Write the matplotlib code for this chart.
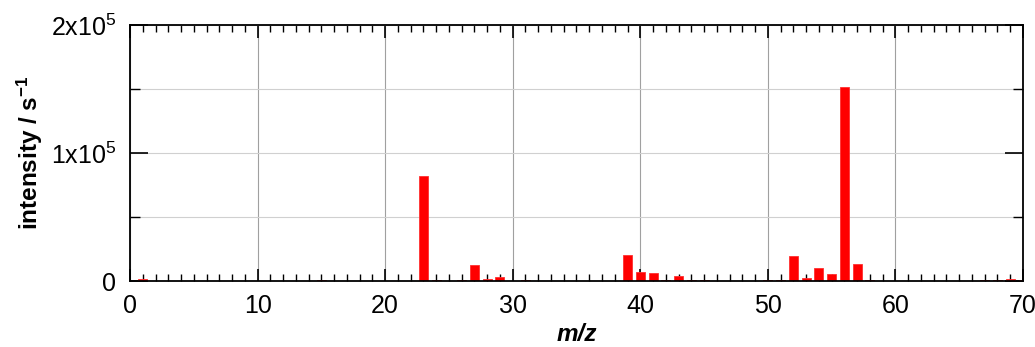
import matplotlib
matplotlib.use("Agg")
import matplotlib.pyplot as plt
from matplotlib.ticker import MultipleLocator, FixedLocator

plt.rcParams['font.family'] = ['Liberation Sans', 'DejaVu Sans']
plt.rcParams['mathtext.fontset'] = 'custom'
plt.rcParams['mathtext.rm'] = 'Liberation Sans'
plt.rcParams['mathtext.it'] = 'Liberation Sans:italic'
plt.rcParams['mathtext.bf'] = 'Liberation Sans:bold'

mz = [1, 14, 15, 23, 24, 26, 27, 28, 29, 30, 31, 39, 40, 41, 42, 43, 44, 45,
      50, 51, 52, 53, 54, 55, 56, 57, 58, 67, 68, 69, 70]
intensity = [1500, 300, 600, 82000, 700, 700, 12300, 1300, 3000, 300, 700,
             20000, 7000, 6000, 500, 3800, 800, 900,
             800, 600, 19500, 2100, 9900, 5500, 151500, 13000, 600,
             400, 500, 1800, 900]

xticks = [0, 10, 20, 30, 40, 50, 60, 70]
yticks = [0, 100000, 200000]
ytick_labels = ['0', '1x10$^{5}$', '2x10$^{5}$']

fig = plt.figure(figsize=(10.35, 3.47), dpi=100)
ax = fig.add_axes([0.1256, 0.1902, 0.8628, 0.7378])

ax.bar(mz, intensity, width=0.7, color='#ff0000', edgecolor='#ff3030',
       linewidth=0.6, zorder=2)

ax.set_xlim(0, 70)
ax.set_ylim(0, 200000)

ax.xaxis.set_major_locator(FixedLocator(xticks))
ax.xaxis.set_minor_locator(MultipleLocator(1))
ax.yaxis.set_major_locator(FixedLocator(yticks))
ax.yaxis.set_minor_locator(MultipleLocator(50000))
ax.set_yticklabels(ytick_labels)

ax.grid(True, which='major', axis='x', color='#a0a0a0', linewidth=0.8, zorder=1)
ax.grid(True, which='both', axis='y', color='#d0d0d0', linewidth=0.8, zorder=1)

ax.tick_params(axis='both', which='major', direction='in', labelsize=18,
               top=True, right=True, width=1.2, color='black')
ax.tick_params(axis='x', which='major', length=9, pad=9)
ax.tick_params(axis='y', which='major', length=13, pad=10)
ax.tick_params(axis='x', which='minor', direction='in', length=5, width=1.0,
               top=True, bottom=True)
ax.tick_params(axis='y', which='minor', direction='in', length=7, width=1.0,
               left=True, right=True)

for sp in ax.spines.values():
    sp.set_linewidth(1.3)
    sp.set_color('black')

ax.set_ylabel('intensity / s$^{\\mathbf{-1}}$', fontsize=17.5, fontweight='bold', labelpad=4)
ax.set_xlabel('m/z', fontsize=17.5, fontweight='bold', fontstyle='italic', labelpad=4)

fig.savefig('out.png', dpi=100)
